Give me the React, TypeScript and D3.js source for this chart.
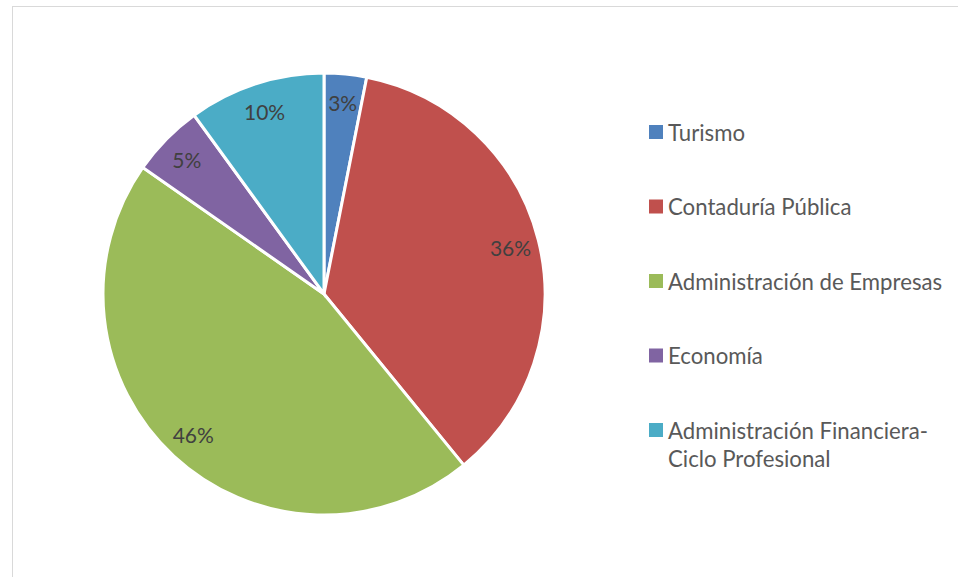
import React from "react";
import * as d3 from "d3";

const categories = [
  "Turismo",
  "Contaduría Pública",
  "Administración de Empresas",
  "Economía",
  "Administración Financiera-Ciclo Profesional",
];
const values = [3.1, 36.0, 45.6, 5.3, 10.0];
const legendLines = [
  ["Turismo"],
  ["Contaduría Pública"],
  ["Administración de Empresas"],
  ["Economía"],
  ["Administración Financiera-", "Ciclo Profesional"],
];
const colors = ["#4F81BD", "#C0504D", "#9BBB59", "#8064A2", "#4BACC6"];

const W = 958;
const H = 577;
const cx = 324;
const cy = 294;
const R = 221;
const FONT = "Lato, 'Open Sans', sans-serif";

export default function App() {
  const data = categories.map((c, i) => ({ c, v: values[i], i }));
  const pie = d3.pie<any>().value((d) => d.v).sort(null);
  const arcs = pie(data);
  const arc = d3.arc<any>().innerRadius(0).outerRadius(R);
  const labelArc = d3.arc<any>().innerRadius(R * 0.87).outerRadius(R * 0.87);
  const total = d3.sum(values);
  const legendY = d3.scalePoint<number>().domain(d3.range(categories.length)).range([132, 430]);

  return (
    <svg
      width={W}
      height={H}
      style={{ position: "absolute", left: 0, top: 0, display: "block" }}
    >
      <rect x={0} y={0} width={W} height={H} fill="#fff" />
      <rect x={12.5} y={6.5} width={W + 20} height={H + 20} fill="none" stroke="#D9D9D9" strokeWidth={1} />
      <g transform={`translate(${cx},${cy})`}>
        {arcs.map((a, i) => (
          <path key={i} d={arc(a) as string} fill={colors[i]} stroke="#fff" strokeWidth={3} strokeLinejoin="miter" />
        ))}
        {arcs.map((a, i) => {
          const [x, y] = labelArc.centroid(a);
          return (
            <text
              key={"l" + i}
              x={x}
              y={y}
              textAnchor="middle"
              dominantBaseline="central"
              fontFamily={FONT}
              fontSize={21}
              fill="#404040"
            >
              {Math.round((values[i] / total) * 100)}%
            </text>
          );
        })}
      </g>
      {legendLines.map((lines, i) => {
        const y = legendY(i) as number;
        return (
          <g key={"lg" + i}>
            <rect x={649} y={y - 7} width={14} height={14} fill={colors[i]} />
            {lines.map((t, j) => (
              <text
                key={j}
                x={668}
                y={y + j * 28}
                dominantBaseline="central"
                fontFamily={FONT}
                fontSize={22.2}
                fill="#595959"
              >
                {t}
              </text>
            ))}
          </g>
        );
      })}
    </svg>
  );
}
